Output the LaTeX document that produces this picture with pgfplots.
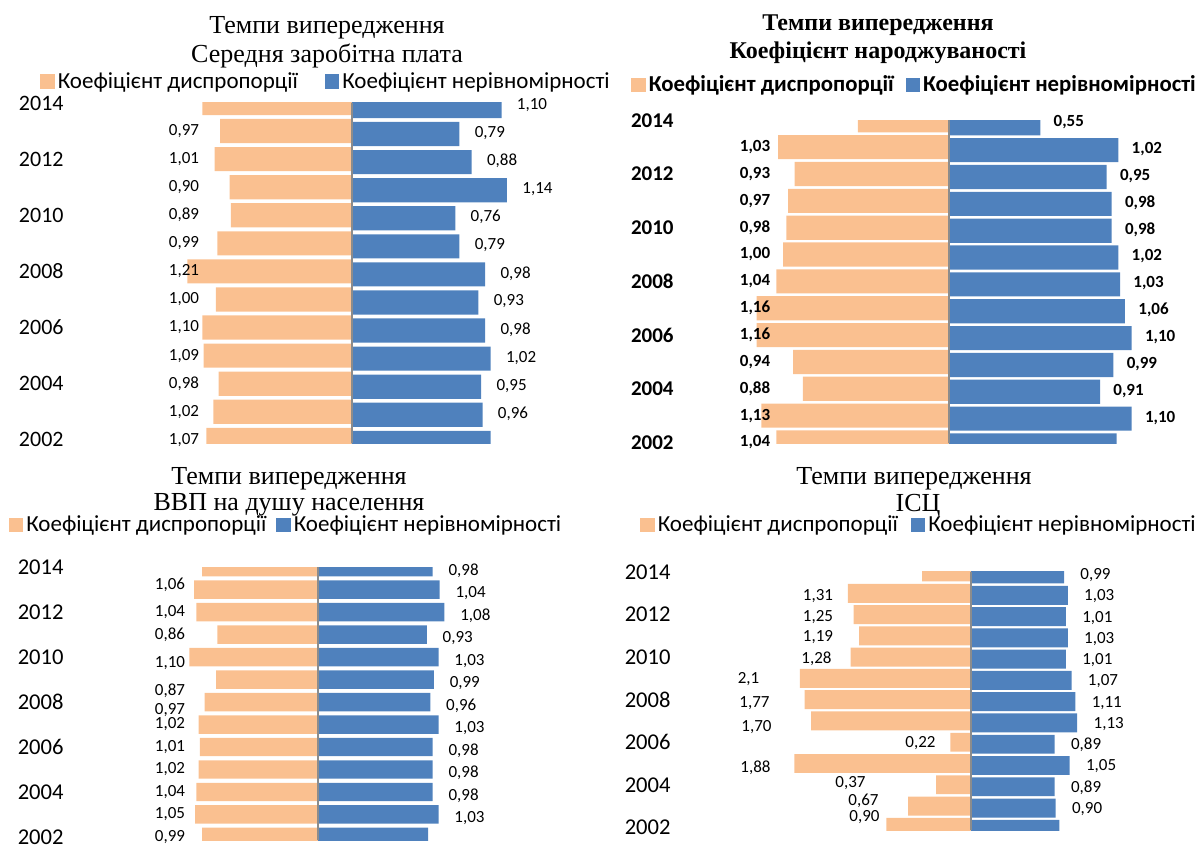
\documentclass[border=0pt]{standalone}
\usepackage{fontspec}
\setmainfont{Carlito}
\newfontfamily\tnr{Liberation Serif}
\usepackage{pgfplots}
\usepackage{pgfplotstable}
\pgfplotsset{compat=1.18}
\definecolor{orng}{HTML}{FAC090}
\definecolor{blu}{HTML}{4F81BD}
\definecolor{cline}{HTML}{8C8C8C}

% Середня заробітна плата
\pgfplotstableread{
year o b ol bl
2014 1.10 1.10 {} 1,10
2013 0.97 0.79 0,97 0,79
2012 1.01 0.88 1,01 0,88
2011 0.90 1.14 0,90 1,14
2010 0.89 0.76 0,89 0,76
2009 0.99 0.79 0,99 0,79
2008 1.21 0.98 1,21 0,98
2007 1.00 0.93 1,00 0,93
2006 1.10 0.98 1,10 0,98
2005 1.09 1.02 1,09 1,02
2004 0.98 0.95 0,98 0,95
2003 1.02 0.96 1,02 0,96
2002 1.07 1.02 1,07 {}
}\dataA

% Коефіцієнт народжуваності
\pgfplotstableread{
year o b ol bl
2014 0.55 0.55 {} 0,55
2013 1.03 1.02 1,03 1,02
2012 0.93 0.95 0,93 0,95
2011 0.97 0.98 0,97 0,98
2010 0.98 0.98 0,98 0,98
2009 1.00 1.02 1,00 1,02
2008 1.04 1.03 1,04 1,03
2007 1.16 1.06 1,16 1,06
2006 1.16 1.10 1,16 1,10
2005 0.94 0.99 0,94 0,99
2004 0.88 0.91 0,88 0,91
2003 1.13 1.10 1,13 1,10
2002 1.04 1.01 1,04 {}
}\dataB

% ВВП на душу населення
\pgfplotstableread{
year o b ol bl ly
2014 0.99 0.98 {} 0,98 2014
2013 1.06 1.04 1,06 1,04 2013.2
2012 1.04 1.08 1,04 1,08 2012
2011 0.86 0.93 0,86 0,93 2011
2010 1.10 1.03 1,10 1,03 2009.74
2009 0.87 0.99 0,87 0,99 2008.49
2008 0.97 0.96 0,97 0,96 2007.63
2007 1.02 1.03 1,02 1,03 2007
2006 1.01 0.98 1,01 0,98 2006
2005 1.02 0.98 1,02 0,98 2005
2004 1.04 0.98 1,04 0,98 2004
2003 1.05 1.03 1,05 1,03 2003
2002 0.99 0.94 0,99 {} 2002
}\dataC

% ІСЦ
\pgfplotstableread{
year o b ol bl lx ly
2014 0.52 0.99 {} 0,99 -1 2014
2013 1.31 1.03 1,31 1,03 -1.628 2012.85
2012 1.25 1.01 1,25 1,01 -1.628 2011.88
2011 1.19 1.03 1,19 1,03 -1.628 2010.94
2010 1.28 1.01 1,28 1,01 -1.644 2009.92
2009 1.82 1.07 2,1 1,07 -2.367 2008.95
2008 1.77 1.11 1,77 1,11 -2.303 2007.82
2007 1.70 1.13 1,70 1,13 -2.282 2006.71
2006 0.22 0.89 0,22 0,89 -0.537 2005.96
2005 1.88 1.05 1,88 1,05 -2.293 2004.81
2004 0.37 0.89 0,37 0,89 -1.282 2004.08
2003 0.67 0.90 0,67 0,90 -1.144 2003.26
2002 0.90 0.94 0,90 {} -1.133 2002.48
}\dataD

\pgfplotsset{
  sqleg/.style={legend image code/.code={\fill[#1] (0pt,-3.6pt) rectangle (7.2pt,3.6pt);}},
  pyr/.style={
    scale only axis, anchor=south west, axis on top,
    axis line style={draw=none}, tick style={draw=none},
    xtick=\empty, ytick={2002,2004,...,2014},
    yticklabels={2002,2004,2006,2008,2010,2012,2014},
    yticklabel style={inner sep=0pt, xshift=-1pt},
    extra x ticks={0}, extra x tick labels={},
    extra x tick style={grid=major, major grid style={cline, line width=0.8pt}},
    legend columns=2,
    legend style={draw=none, fill=none, inner sep=0pt, anchor=west,
      nodes={inner sep=1.5pt}},
  },
}

\begin{document}
\begin{tikzpicture}
\useasboundingbox (0,0) rectangle (600pt,-424pt);

% ---------- Panel 1 ----------
\node[font=\tnr\fontsize{13}{15}\selectfont, anchor=base] at (163.5pt,-16.5pt) {Темпи випередження};
\node[font=\tnr\fontsize{13}{15}\selectfont, anchor=base] at (163.5pt,-31pt) {Середня заробітна плата};
\begin{axis}[pyr, at={(33pt,-221.5pt)}, width=267pt, height=170.15pt,
  xmin=-2.103, xmax=1.824, ymin=2001.887, ymax=2014.01,
  yticklabel style={font=\fontsize{11}{13}\selectfont},
  legend style={at={(axis description cs:-0.0487,1.0618)}, font=\fontsize{11.5}{13}\selectfont,
    /tikz/every even column/.append style={column sep=12pt}}]
\addplot[xbar, bar width=0.86, bar shift=0pt, fill=orng, draw=none, sqleg=orng]
  table[x expr=-\thisrow{o}, y=year] {\dataA};
\addlegendentry{Коефіцієнт диспропорції}
\addplot[xbar, bar width=0.86, bar shift=-1.5pt, fill=blu, draw=none, sqleg=blu,
  nodes near coords, point meta=explicit symbolic,
  every node near coord/.append style={anchor=west, inner sep=0pt, xshift=7.5pt, yshift=-1pt, font=\fontsize{8.5}{10}\selectfont, text=black}]
  table[x=b, y=year, meta=bl] {\dataA};
\addlegendentry{Коефіцієнт нерівномірності}
\addplot[draw=none, mark=none, forget plot, nodes near coords, point meta=explicit symbolic,
  every node near coord/.append style={anchor=center, inner sep=0pt, font=\fontsize{8.5}{10}\selectfont, text=black}]
  table[x expr=-1.235, y=year, meta=ol] {\dataA};
\end{axis}

% ---------- Panel 2 ----------
\node[font=\tnr\bfseries\fontsize{12}{15}\selectfont, anchor=base] at (439pt,-15pt) {Темпи випередження};
\node[font=\tnr\bfseries\fontsize{12}{15}\selectfont, anchor=base] at (439pt,-29pt) {Коефіцієнт народжуваності};
\begin{axis}[pyr, at={(338pt,-221.65pt)}, width=262pt, height=161.65pt,
  xmin=-1.645, xmax=1.512, ymin=2001.97, ymax=2014.01,
  yticklabel style={font=\bfseries\fontsize{10.5}{13}\selectfont},
  legend style={at={(axis description cs:-0.0859,1.109)}, font=\bfseries\fontsize{11.4}{13}\selectfont,
    /tikz/every even column/.append style={column sep=4.5pt}}]
\addplot[xbar, bar width=0.9, bar shift=0pt, fill=orng, draw=none, sqleg=orng]
  table[x expr=-\thisrow{o}, y=year] {\dataB};
\addlegendentry{Коефіцієнт диспропорції}
\addplot[xbar, bar width=0.9, bar shift=-1.5pt, fill=blu, draw=none, sqleg=blu,
  nodes near coords, point meta=explicit symbolic,
  every node near coord/.append style={anchor=west, inner sep=0pt, xshift=6.5pt, yshift=-1pt, font=\bfseries\fontsize{8.5}{10}\selectfont, text=black}]
  table[x=b, y=year, meta=bl] {\dataB};
\addlegendentry{Коефіцієнт нерівномірності}
\addplot[draw=none, mark=none, forget plot, nodes near coords, point meta=explicit symbolic,
  every node near coord/.append style={anchor=center, inner sep=0pt, font=\bfseries\fontsize{8.5}{10}\selectfont, text=black}]
  table[x expr=-1.169, y=year, meta=ol] {\dataB};
\end{axis}

% ---------- Panel 3 ----------
\node[font=\tnr\fontsize{13}{15}\selectfont, anchor=base] at (144.5pt,-242pt) {Темпи випередження};
\node[font=\tnr\fontsize{13}{15}\selectfont, anchor=base] at (144.5pt,-255pt) {ВВП на душу населення};
\begin{axis}[pyr, at={(33pt,-420pt)}, width=267pt, height=136.5pt,
  xmin=-2.154, xmax=2.41, ymin=2001.862, ymax=2014.01,
  yticklabel style={font=\fontsize{11.3}{13}\selectfont},
  legend style={at={(axis description cs:-0.1077,1.1538)}, font=\fontsize{11.5}{13}\selectfont,
    /tikz/every even column/.append style={column sep=3.5pt}}]
\addplot[xbar, bar width=0.82, bar shift=0pt, fill=orng, draw=none, sqleg=orng]
  table[x expr=-\thisrow{o}, y=year] {\dataC};
\addlegendentry{Коефіцієнт диспропорції}
\addplot[xbar, bar width=0.82, bar shift=0pt, fill=blu, draw=none, sqleg=blu,
  nodes near coords, point meta=explicit symbolic,
  every node near coord/.append style={anchor=west, inner sep=0pt, xshift=7.75pt, yshift=-1.75pt, font=\fontsize{8.5}{10}\selectfont, text=black}]
  table[x=b, y=year, meta=bl] {\dataC};
\addlegendentry{Коефіцієнт нерівномірності}
\addplot[draw=none, mark=none, forget plot, nodes near coords, point meta=explicit symbolic,
  every node near coord/.append style={anchor=center, inner sep=0pt, font=\fontsize{8.5}{10}\selectfont, text=black}]
  table[x expr=-1.265, y=ly, meta=ol] {\dataC};
\end{axis}

% ---------- Panel 4 ----------
\node[font=\tnr\fontsize{13}{15}\selectfont, anchor=base] at (457pt,-242pt) {Темпи випередження};
\node[font=\tnr\fontsize{13}{15}\selectfont, anchor=base] at (459pt,-255.5pt) {ІСЦ};
\begin{axis}[pyr, at={(336.5pt,-415pt)}, width=263.5pt, height=129.1pt,
  xmin=-3.17, xmax=2.436, ymin=2001.873, ymax=2014.01,
  yticklabel style={font=\fontsize{11.3}{13}\selectfont},
  legend style={at={(axis description cs:-0.0626,1.1813)}, font=\fontsize{11.5}{13}\selectfont,
    /tikz/every even column/.append style={column sep=5pt}}]
\addplot[xbar, bar width=0.89, bar shift=0pt, fill=orng, draw=none, sqleg=orng]
  table[x expr=-\thisrow{o}, y=year] {\dataD};
\addlegendentry{Коефіцієнт диспропорції}
\addplot[xbar, bar width=0.89, bar shift=-1pt, fill=blu, draw=none, sqleg=blu,
  nodes near coords, point meta=explicit symbolic,
  every node near coord/.append style={anchor=west, inner sep=0pt, xshift=8pt, yshift=-1.5pt, font=\fontsize{8.5}{10}\selectfont, text=black}]
  table[x=b, y=year, meta=bl] {\dataD};
\addlegendentry{Коефіцієнт нерівномірності}
\addplot[draw=none, mark=none, forget plot, nodes near coords, point meta=explicit symbolic,
  every node near coord/.append style={anchor=center, inner sep=0pt, font=\fontsize{8.5}{10}\selectfont, text=black}]
  table[x=lx, y=ly, meta=ol] {\dataD};
\end{axis}
\end{tikzpicture}
\end{document}
